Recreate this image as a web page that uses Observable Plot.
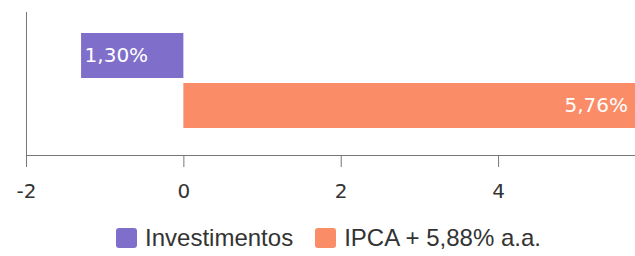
<!DOCTYPE html>
<html><head><meta charset="utf-8">
<script src="https://cdn.jsdelivr.net/npm/d3@7"></script>
<script src="https://cdn.jsdelivr.net/npm/@observablehq/plot@0.6"></script>
<style>
body{margin:0;background:#fff;}
#legend{display:flex;justify-content:center;align-items:center;margin-top:19px;padding-left:22px;font-family:"Liberation Sans",Arial,sans-serif;font-size:24px;color:#333;line-height:26px;}
.item{display:flex;align-items:center;margin:0 11px;}
.sw{width:21px;height:20px;border-radius:3px;margin-right:8px;}
</style></head><body><div id="chart"></div><div id="legend"></div>
<script>
const series = ["Investimentos", "IPCA + 5,88% a.a."];
const values = [-1.30, 5.76];
const colors = ["#7f6fcb", "#fb8c68"];
const xTicks = [-2, 0, 2, 4];
const data = series.map((s, i) => ({series: s, value: values[i]}));
const fmt = v => d3.format(".2f")(Math.abs(v)).replace(".", ",") + "%";
const plot = Plot.plot({
  width: 635, height: 206,
  marginLeft: 26, marginRight: 0, marginTop: 12, marginBottom: 51,
  style: {fontFamily: "DejaVu Sans, Verdana, sans-serif", color: "#333", background: "#fff", overflow: "visible"},
  x: {domain: [-2, 5.74], axis: null},
  y: {domain: series, axis: null, paddingInner: 0.11, paddingOuter: 0.47, align: 0.43},
  color: {domain: series, range: colors},
  marks: [
    Plot.barX(data, {x: "value", y: "series", fill: "series"}),
    Plot.text(data.filter(d => d.value < 0), {x: "value", y: "series", text: d => fmt(d.value), textAnchor: "start", dx: 3, fill: "white", fontSize: 20}),
    Plot.text(data.filter(d => d.value > 0), {x: "value", y: "series", text: d => fmt(d.value), textAnchor: "end", dx: -9, fill: "white", fontSize: 20}),
    Plot.frame({anchor: "bottom", stroke: "#777"}),
    Plot.frame({anchor: "left", stroke: "#777"}),
    Plot.axisX({ticks: xTicks, label: null, tickSize: 12, tickPadding: 16, fontSize: 20, stroke: "#777", tickFormat: d => String(d)})
  ]
});
document.getElementById("chart").appendChild(plot);
const leg = document.getElementById("legend");
series.forEach((s, i) => {
  const it = document.createElement("div"); it.className = "item";
  const sw = document.createElement("span"); sw.className = "sw"; sw.style.background = colors[i];
  const t = document.createElement("span"); t.textContent = s;
  it.appendChild(sw); it.appendChild(t); leg.appendChild(it);
});
</script></body></html>
